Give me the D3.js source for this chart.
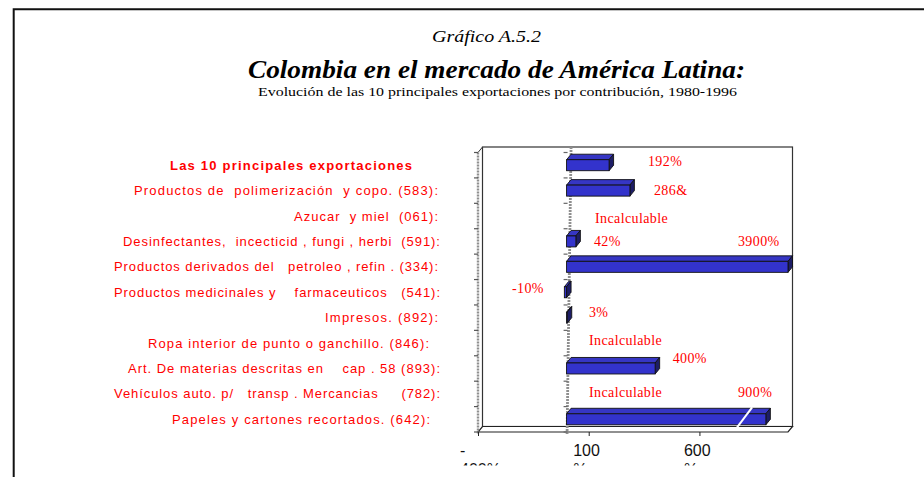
<!DOCTYPE html>
<html>
<head>
<meta charset="utf-8">
<script src="https://cdn.jsdelivr.net/npm/d3@7"></script>
<style>
  html, body { margin: 0; padding: 0; background: #fff; }
  svg { display: block; }
  text { white-space: pre; }
</style>
</head>
<body>
<svg id="chart" width="924" height="477"></svg>
<script>
// ---------------- DATA ----------------
const categories = [
  "Las 10 principales exportaciones",
  "Productos de  polimerización  y copo. (583):",
  "Azucar  y miel  (061):",
  "Desinfectantes,  incecticid , fungi , herbi  (591):",
  "Productos derivados del   petroleo , refin . (334):",
  "Productos medicinales y    farmaceuticos   (541):",
  "Impresos. (892):",
  "Ropa interior de punto o ganchillo. (846):",
  "Art. De materias descritas en    cap . 58 (893):",
  "Vehículos auto. p/   transp . Mercancias     (782):",
  "Papeles y cartones recortados. (642):"
];
// growth (%), null = incalculable
const values = [192, 286, null, 42, 3900, -10, 3, null, 400, null, 900];
const valueLabels = ["192%", "286&", "Incalculable", "42%", "3900%", "-10%", "3%",
                     "Incalculable", "400%", "Incalculable", "900%"];
const xTicks = [-400, 100, 600];
const xTickLine1 = ["-", "100", "600"];
const xTickLine2 = ["400%", "%", "%"];
const xDomain = [-400, 1000];

// ---------------- LAYOUT ----------------
const svg = d3.select("#chart");
const red = "#ff0000";
const depth = { dx: 4.5, dy: -5.5 };
const front = { left: 478, right: 788, top: 152.5, bottom: 432 };

const x = d3.scaleLinear().domain(xDomain).range([front.left, front.right]);
const y = d3.scaleBand().domain(d3.range(categories.length)).range([front.top, front.bottom]).padding(0);
const barH = 11;

// outer frame
svg.append("path")
  .attr("d", "M13.7,477 L13.7,9.3 L924,9.3")
  .attr("fill", "none").attr("stroke", "#111").attr("stroke-width", 2);

// titles
const serif = "Liberation Serif, Times New Roman, serif";
svg.append("text").attr("x", 432).attr("y", 42)
  .attr("font-family", serif).attr("font-style", "italic")
  .attr("font-size", 17).attr("textLength", 109).attr("lengthAdjust", "spacingAndGlyphs")
  .text("Gráfico A.5.2");
svg.append("text").attr("x", 248).attr("y", 77.5)
  .attr("font-family", serif).attr("font-style", "italic")
  .attr("font-weight", "bold").attr("font-size", 25).attr("textLength", 497).attr("lengthAdjust", "spacingAndGlyphs")
  .text("Colombia en el mercado de América Latina:");
svg.append("text").attr("x", 258).attr("y", 95.5)
  .attr("font-family", serif)
  .attr("font-size", 13).attr("textLength", 479).attr("lengthAdjust", "spacingAndGlyphs")
  .text("Evolución de las 10 principales exportaciones por contribución, 1980-1996");

// ---------------- 3D BOX ----------------
const g = svg.append("g");
// back wall
g.append("rect")
  .attr("x", front.left + depth.dx).attr("y", front.top + depth.dy)
  .attr("width", front.right - front.left).attr("height", front.bottom - front.top)
  .attr("fill", "#fff").attr("stroke", "#333").attr("stroke-width", 1.2);
// floor
g.append("path")
  .attr("d", `M${front.left},${front.bottom} L${front.right},${front.bottom} L${front.right + depth.dx},${front.bottom + depth.dy} L${front.left + depth.dx},${front.bottom + depth.dy} Z`)
  .attr("fill", "#fff").attr("stroke", "#222").attr("stroke-width", 1.2);
// left wall top corner
g.append("line")
  .attr("x1", front.left).attr("y1", front.top).attr("x2", front.left + depth.dx).attr("y2", front.top + depth.dy)
  .attr("stroke", "#333").attr("stroke-width", 1);

// left category axis (dashed gray) + ticks
g.append("line")
  .attr("x1", front.left).attr("x2", front.left)
  .attr("y1", front.top).attr("y2", front.bottom + 2)
  .attr("stroke", "#8f8f8f").attr("stroke-width", 2.4).attr("stroke-dasharray", "2,1");
const bounds = d3.range(categories.length + 1).map(i => i < categories.length ? y(i) : front.bottom);
g.selectAll(".ltick").data(bounds).join("line")
  .attr("x1", front.left - 4).attr("x2", front.left)
  .attr("y1", d => d).attr("y2", d => d)
  .attr("stroke", "#555").attr("stroke-width", 1.2);

// zero line (dashed gray)
g.append("line")
  .attr("x1", x(0) + 0.5).attr("y1", front.bottom + 2)
  .attr("x2", x(0) + depth.dx).attr("y2", front.top + depth.dy)
  .attr("stroke", "#8f8f8f").attr("stroke-width", 2.8).attr("stroke-dasharray", "2,1");
g.selectAll(".ztick").data(bounds).join("line")
  .attr("x1", x(0) - 3).attr("x2", x(0) + 1)
  .attr("y1", d => d).attr("y2", d => d)
  .attr("stroke", "#666").attr("stroke-width", 1.2);

// bottom value axis ticks
const xAxis = d3.axisBottom(x).tickValues(xTicks).tickSize(4).tickFormat("");
const axG = g.append("g").attr("transform", `translate(0,${front.bottom})`).call(xAxis);
axG.select(".domain").remove();
axG.selectAll("line").attr("stroke", "#222");

// tick labels (clipped at the bottom like the reference)
svg.append("clipPath").attr("id", "tickclip")
  .append("rect").attr("x", 0).attr("y", 0).attr("width", 924).attr("height", 465.5);
const tl = svg.append("g").attr("clip-path", "url(#tickclip)")
  .attr("font-family", "Liberation Sans, Arial, sans-serif").attr("font-size", 16).attr("fill", "#111");
tl.selectAll(".t1").data(xTicks).join("text")
  .attr("x", (d, i) => x(d) - (i === 0 ? 18 : 15.5)).attr("y", 456)
  .text((d, i) => xTickLine1[i]);
tl.selectAll(".t2").data(xTicks).join("text")
  .attr("x", (d, i) => x(d) - (i === 0 ? 18 : 15.5)).attr("y", 474.5)
  .text((d, i) => xTickLine2[i]);

// ---------------- BARS ----------------
const barData = values.map((v, i) => ({ v, i })).filter(d => d.v !== null);
const bars = g.selectAll(".bar").data(barData).join("g");
function geom(d) {
  const cap = Math.min(Math.max(d.v, xDomain[0]), xDomain[1]);
  const x0 = x(Math.min(0, cap)), x1 = x(Math.max(0, cap));
  const c = y(d.i) + y.bandwidth() / 2;
  return { x0, x1, yt: c - barH / 2, yb: c + barH / 2 };
}
bars.append("path") // top face
  .attr("d", d => { const b = geom(d);
    return `M${b.x0},${b.yt} L${b.x1},${b.yt} L${b.x1 + depth.dx},${b.yt + depth.dy} L${b.x0 + depth.dx},${b.yt + depth.dy} Z`; })
  .attr("fill", "#3636c4").attr("stroke", "#111").attr("stroke-width", 0.9).attr("stroke-linejoin", "round");
bars.append("path") // side face
  .attr("d", d => { const b = geom(d);
    return `M${b.x1},${b.yt} L${b.x1 + depth.dx},${b.yt + depth.dy} L${b.x1 + depth.dx},${b.yb + depth.dy} L${b.x1},${b.yb} Z`; })
  .attr("fill", "#1d1d66").attr("stroke", "#111").attr("stroke-width", 0.9).attr("stroke-linejoin", "round");
bars.append("rect") // front face
  .attr("x", d => geom(d).x0).attr("y", d => geom(d).yt)
  .attr("width", d => Math.max(0.6, geom(d).x1 - geom(d).x0)).attr("height", barH)
  .attr("fill", "#3333cc").attr("stroke", "#111").attr("stroke-width", 0.9);

// break mark on the last bar
const lastIdx = values.length - 1;
const lc = y(lastIdx) + y.bandwidth() / 2;
g.append("line")
  .attr("x1", x(770)).attr("y1", lc + barH / 2 + 2.5)
  .attr("x2", x(838)).attr("y2", lc - barH / 2 - 6.5)
  .attr("stroke", "#fff").attr("stroke-width", 2);

// ---------------- VALUE LABELS ----------------
// label offsets from (x(0), band center)
const valueLabelOffsets = [[81.4, 0.8], [87.4, 4.4], [28.4, 7], [27.4, 4.6], [171.4, -20.8],
  [-54.6, 0.3], [22.4, -1.1], [22.4, 2], [106.1, -5.9], [22.4, 2.7], [171.4, -22.7]];
svg.append("g").selectAll("text").data(valueLabels).join("text")
  .attr("x", (d, i) => x(0) + valueLabelOffsets[i][0])
  .attr("y", (d, i) => y(i) + y.bandwidth() / 2 + valueLabelOffsets[i][1])
  .attr("font-family", serif)
  .attr("font-size", 14).attr("letter-spacing", 0.4).attr("fill", red)
  .text(d => d);

// ---------------- CATEGORY LABELS ----------------
// horizontal extent of each label text box [start, end]
const labelSpan = [[170, 412], [134, 438], [294, 438], [123, 440], [114, 438], [114, 440],
  [325, 438], [148, 429], [128, 440], [114, 440], [172, 430]];
svg.append("g").selectAll("text").data(categories).join("text")
  .attr("x", (d, i) => labelSpan[i][0])
  .attr("y", (d, i) => y(i) + y.bandwidth() / 2 + 4.5)
  .attr("textLength", (d, i) => labelSpan[i][1] - labelSpan[i][0])
  .attr("lengthAdjust", "spacing")
  .attr("font-family", "Liberation Sans, Arial, sans-serif")
  .attr("font-size", 13)
  .attr("font-weight", (d, i) => i === 0 ? "bold" : "normal")
  .attr("fill", red)
  .text(d => d);
</script>
</body>
</html>
